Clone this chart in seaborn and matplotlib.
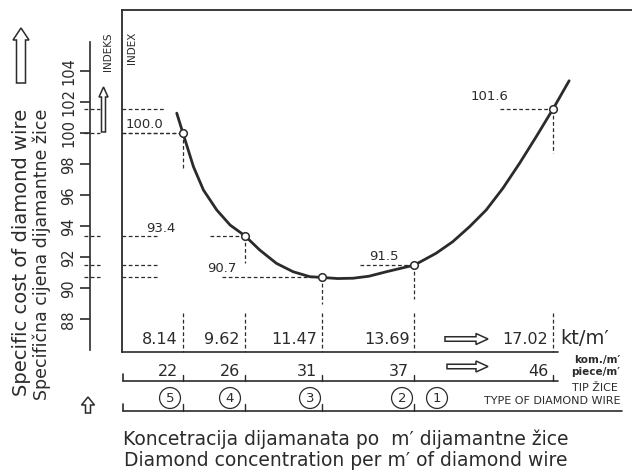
import matplotlib
matplotlib.use('Agg')
import matplotlib.pyplot as plt
import seaborn as sns
from matplotlib.patches import FancyArrow

sns.set_style('white')
plt.rcParams['font.family'] = ['DejaVu Sans']

INK = '#2b2b2b'

# values
kt_per_m = [8.14, 9.62, 11.47, 13.69, 17.02]
pieces_per_m = [22, 26, 31, 37, 46]
wire_type = ['5', '4', '3', '2', '1']
index_value = [100.0, 93.4, 90.7, 91.5, 101.6]
index_labels = ['100.0', '93.4', '90.7', '91.5', '101.6']

# points along the drawn curve
curve_kt = [7.99, 8.14, 8.39, 8.63, 8.95, 9.27, 9.62, 9.98, 10.38, 10.78, 11.18, 11.47,
            11.85, 12.22, 12.6, 13.02, 13.69, 14.21, 14.61, 15.01, 15.41, 15.81, 16.21,
            16.61, 17.02, 17.40]
curve_index = [101.3, 100.0, 97.85, 96.34, 95.05, 94.08, 93.4, 92.47, 91.61, 91.07, 90.75, 90.7,
               90.63, 90.65, 90.78, 91.07, 91.5, 92.26, 93.01, 93.97, 95.05, 96.45, 98.06,
               99.78, 101.6, 103.39]

y_ticks = [88, 90, 92, 94, 96, 98, 100, 102, 104]

W, H = 632, 472


# scan pixel <-> value mapping
def kt_at(px):
    return 8.14 + (px - 183) / 41.7


def kt_px(kt):
    return 183 + (kt - 8.14) * 41.7


def idx_at(py):
    return 100 - (py - 133.3) / 15.5


def box(l, t, r, b):
    return [l / W, 1 - b / H, (r - l) / W, (b - t) / H]


fig = plt.figure(figsize=(6.32, 4.72), dpi=100)
fig.patch.set_facecolor('white')

# main frame
ax = fig.add_axes(box(122, 10, 632, 351.5))
ax.set_xlim(kt_at(122), kt_at(632))
ax.set_ylim(idx_at(351.5), idx_at(10))
ax.patch.set_alpha(0)
for s in ['right', 'bottom']:
    ax.spines[s].set_visible(False)
for s in ['left', 'top']:
    ax.spines[s].set_color(INK)
    ax.spines[s].set_linewidth(1.3)
ax.set_xticks([])
ax.set_yticks([])

# separate index axis on the left
ay = fig.add_axes(box(90, 42, 90.5, 350))
ay.set_ylim(idx_at(350), idx_at(42))
ay.set_yticks(y_ticks)
ay.set_yticklabels([str(t) for t in y_ticks], rotation=90, va='center')
ay.tick_params(axis='y', left=True, length=7, width=1.2, colors=INK, labelsize=10.5, pad=3, direction='out')
ay.set_xticks([])
ay.patch.set_alpha(0)
for s in ['right', 'bottom', 'top']:
    ay.spines[s].set_visible(False)
ay.spines['left'].set_color(INK)
ay.spines['left'].set_linewidth(1.2)

# curve and points
sns.lineplot(x=curve_kt, y=curve_index, ax=ax, color=INK, lw=2.0, estimator=None, sort=False)
sns.scatterplot(x=kt_per_m, y=index_value, ax=ax, s=30, color='white', edgecolor=INK, linewidth=1.1, zorder=5)

# dashed reference lines
dash = dict(color=INK, lw=0.9, ls=(0, (3, 2)), clip_on=False)
left_end = [183, 158, 158, 158, 165]
near_start = [122, 210, 222, 360, 500]
drop_end = [170, 263, 304, 299, 153]
for kt, v, le, ns, de in zip(kt_per_m, index_value, left_end, near_start, drop_end):
    ax.plot([kt_at(84), kt_at(100)], [v, v], **dash)
    ax.plot([kt_at(122), kt_at(le)], [v, v], **dash)
    ax.plot([kt_at(ns), kt], [v, v], **dash)
    ax.plot([kt, kt], [v, idx_at(de)], **dash)
    ax.plot([kt, kt], [idx_at(313), idx_at(351.5)], **dash)

# overlay in scan pixels for the annotation rows
ov = fig.add_axes([0, 0, 1, 1])
ov.set_xlim(0, W)
ov.set_ylim(H, 0)
ov.axis('off')
ov.patch.set_alpha(0)

label_pos = [(144, 125), (161, 228), (222, 268), (384, 256), (490, 97)]
for (x, y), lab in zip(label_pos, index_labels):
    ov.text(x, y, lab, fontsize=9.5, color=INK, ha='center', va='center')

line = dict(color=INK, lw=1.2)
ov.plot([122, 558], [351.5, 351.5], **line)
ov.plot([123, 558], [380.5, 380.5], **line)
ov.plot([123, 622], [410.5, 410.5], **line)
ov.plot([123, 123], [374, 380.5], **line)
ov.plot([123, 123], [404, 410.5], **line)

for kt, p in zip(kt_per_m, pieces_per_m):
    x = kt_px(kt)
    ov.text(x - 5, 340, f'{kt:.2f}', fontsize=11.5, color=INK, ha='right', va='center')
    ov.text(x - 5, 371, str(p), fontsize=11.5, color=INK, ha='right', va='center')
    ov.plot([x, x], [375, 380.5], color=INK, lw=1.0)

for kt in kt_per_m[:4]:
    x = kt_px(kt)
    ov.plot([x, x], [404, 410.5], color=INK, lw=1.0)

type_x = [170, 230, 310, 402, 437]
for x, t in zip(type_x, wire_type):
    ov.text(x, 398, t, fontsize=9.5, color=INK, ha='center', va='center',
            bbox=dict(boxstyle='circle,pad=0.3', fc='white', ec=INK, lw=0.9))

arrow = dict(fc='white', ec=INK, lw=1.1, length_includes_head=True)
ov.add_patch(FancyArrow(445, 339, 43, 0, width=4.5, head_width=11, head_length=12, **arrow))
ov.add_patch(FancyArrow(447, 366.5, 41, 0, width=4.5, head_width=11, head_length=12, **arrow))
ov.add_patch(FancyArrow(21, 83, 0, -55, width=9, head_width=16, head_length=12, **arrow))
ov.add_patch(FancyArrow(103.5, 132, 0, -45, width=4, head_width=9, head_length=10, **arrow))
ov.add_patch(FancyArrow(88, 413, 0, -16, width=5, head_width=13, head_length=8, **arrow))

ov.text(560, 339, 'kt/m′', fontsize=14, color=INK, ha='left', va='center')
ov.text(620, 360, 'kom./m′', fontsize=7.5, color=INK, ha='right', va='center', weight='bold')
ov.text(620, 372, 'piece/m′', fontsize=7.5, color=INK, ha='right', va='center', weight='bold')
ov.text(618, 388, 'TIP ŽICE', fontsize=8, color=INK, ha='right', va='center')
ov.text(620, 401, 'TYPE OF DIAMOND WIRE', fontsize=8, color=INK, ha='right', va='center')

ov.text(108, 52, 'INDEKS', fontsize=7.5, color=INK, rotation=90, ha='center', va='center')
ov.text(132, 48, 'INDEX', fontsize=7.5, color=INK, rotation=90, ha='center', va='center')

ov.text(22, 252, 'Specific cost of diamond wire', fontsize=14, color=INK, rotation=90, ha='center', va='center')
ov.text(42, 254, 'Specifična cijena dijamantne žice', fontsize=12.5, color=INK, rotation=90, ha='center', va='center')

ov.text(346, 439, 'Koncetracija dijamanata po  m′ dijamantne žice', fontsize=13.5, color=INK, ha='center', va='center')
ov.text(346, 461, 'Diamond concentration per m′ of diamond wire', fontsize=13.5, color=INK, ha='center', va='center')

fig.savefig('out.png', dpi=100)
